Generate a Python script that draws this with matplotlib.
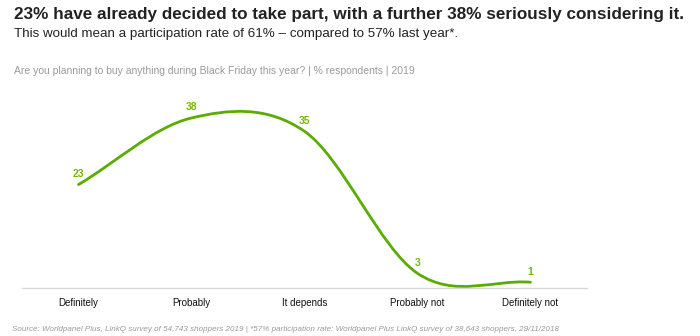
import numpy as np
import matplotlib
matplotlib.use("Agg")
import matplotlib.pyplot as plt
from matplotlib.path import Path
from matplotlib.patches import PathPatch

plt.rcParams['font.family'] = ['Liberation Sans', 'DejaVu Sans']

categories = ['Definitely', 'Probably', 'It depends', 'Probably not', 'Definitely not']
values = [23, 38, 35, 3, 1]

title = '23% have already decided to take part, with a further 38% seriously considering it.'
subtitle = 'This would mean a participation rate of 61% \u2013 compared to 57% last year*.'
question = 'Are you planning to buy anything during Black Friday this year? | % respondents | 2019'
source = ('Source: Worldpanel Plus, LinkQ survey of 54,743 shoppers 2019 | *57% participation rate: '
          'Worldpanel Plus LinkQ survey of 38,643 shoppers, 29/11/2018')

line_col = '#5aac00'
label_col = '#76b900'

W, H = 700, 336
fig = plt.figure(figsize=(W / 100, H / 100), dpi=100)

# axes: x from 22px to 587px, baseline at 288px
ax = fig.add_axes([22 / W, (H - 288) / H, 565 / W, 190 / H])
ax.set_xlim(-0.5, len(categories) - 0.5)
ax.set_ylim(-0.3, 42.5)

# smoothed line (bezier through the points, excel-like)
x = np.arange(len(values), dtype=float)
y = np.array(values, dtype=float)
m = np.zeros_like(y)
m[1:-1] = (y[2:] - y[:-2]) / 2
m[0] = y[1] - y[0]
m[-1] = y[-1] - y[-2]
verts = [(x[0], y[0])]
codes = [Path.MOVETO]
for i in range(len(x) - 1):
    verts += [(x[i] + 1 / 3, y[i] + m[i] / 3),
              (x[i + 1] - 1 / 3, y[i + 1] - m[i + 1] / 3),
              (x[i + 1], y[i + 1])]
    codes += [Path.CURVE4] * 3
ax.add_patch(PathPatch(Path(verts, codes), fill=False, edgecolor=line_col,
                       linewidth=2, capstyle='round', clip_on=False))

for xi, v in zip(x, values):
    ax.annotate(str(v), (xi, v), xytext=(0, 4), textcoords='offset points',
                ha='center', va='bottom', color=label_col, fontsize=7.5, fontweight='bold')

ax.axhline(-0.3, color='#d9d9d9', linewidth=1, clip_on=False)
ax.set_xticks(x)
ax.set_xticklabels(categories, fontsize=7, color='#111111')
ax.tick_params(axis='x', length=0, pad=7)
ax.set_yticks([])
for s in ax.spines.values():
    s.set_visible(False)

fig.text(14 / W, 1 - 19.5 / H, title, fontsize=12.3, fontweight='bold', color='#222222', va='baseline')
fig.text(14 / W, 1 - 36.5 / H, subtitle, fontsize=9.6, color='#222222', va='baseline')
fig.text(14 / W, 1 - 74 / H, question, fontsize=7.5, color='#9a9a9a', va='baseline')
fig.text(12 / W, 1 - 331 / H, source, fontsize=5.8, color='#9a9a9a', style='italic', va='baseline')

fig.savefig('out.png', dpi=100)
